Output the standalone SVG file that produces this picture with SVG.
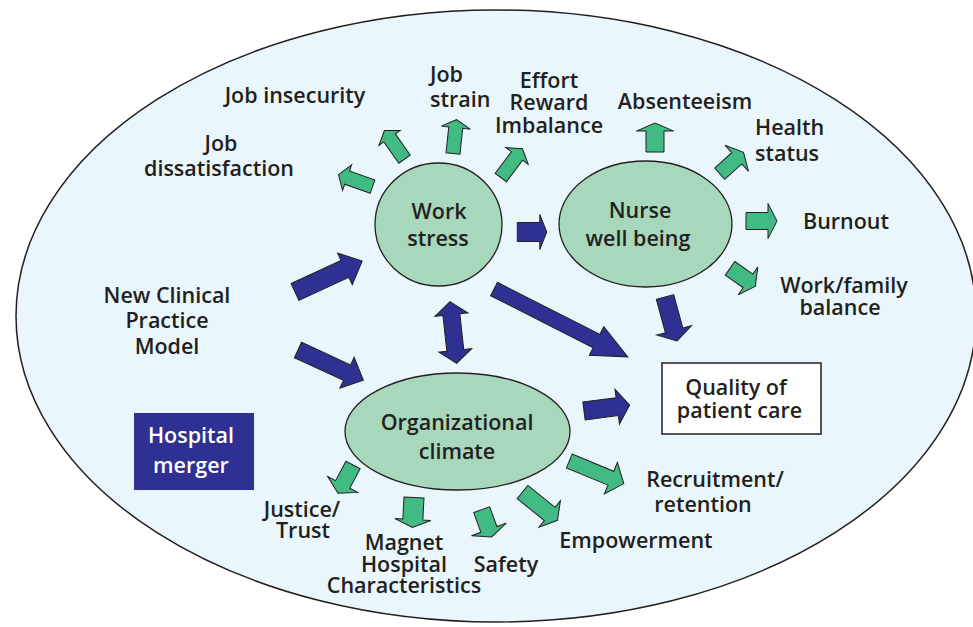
<svg xmlns="http://www.w3.org/2000/svg" width="973" height="627" viewBox="0 0 973 627">
<style>
.bg{fill:#e9f6fc;stroke:#231f20;stroke-width:1.5}
.nd{fill:#a8d8bc;stroke:#231f20;stroke-width:1.3}
.g{fill:#41bb83;stroke:#231f20;stroke-width:1}
.b{fill:#2e3192;stroke:#231f20;stroke-width:1}
text{font-family:"Open Sans","Noto Sans","Liberation Sans",sans-serif;font-weight:600;font-size:21.5px;fill:#231f20;text-anchor:middle}
.w{fill:#ffffff}
.s{text-anchor:start}
</style>
<rect width="973" height="627" fill="#ffffff"/>
<ellipse class="bg" cx="496" cy="316" rx="480" ry="306"/>
<g id="connectors">
<polygon class="g" transform="translate(372.5,186.7) rotate(199.6)" points="0,-7 27,-7 27,-13.5 36,0 27,13.5 27,7 0,7"/>
<polygon class="g" transform="translate(404.5,159.2) rotate(-125)" points="0,-7 26,-7 26,-13 35,0 26,13 26,7 0,7"/>
<polygon class="g" transform="translate(453,153.5) rotate(-84)" points="0,-7 26,-7 26,-14.5 34,0 26,14.5 26,7 0,7"/>
<polygon class="g" transform="translate(500.8,177.5) rotate(-53)" points="0,-7 27,-7 27,-14 36,0 27,14 27,7 0,7"/>
<polygon class="g" transform="translate(655,152) rotate(-90)" points="0,-9 21,-9 21,-18.5 29,0 21,18.5 21,9 0,9"/>
<polygon class="g" transform="translate(719.7,173.7) rotate(-42)" points="0,-7.5 23,-7.5 23,-17.5 32,0 23,17.5 23,7.5 0,7.5"/>
<polygon class="g" transform="translate(746,221) rotate(0)" points="0,-8.5 22,-8.5 22,-17.5 31,0 22,17.5 22,8.5 0,8.5"/>
<polygon class="g" transform="translate(730,268.3) rotate(35)" points="0,-8.3 22,-8.3 22,-17 31,0 22,17 22,8.3 0,8.3"/>
<polygon class="g" transform="translate(353,465) rotate(118)" points="0,-8 22,-8 22,-17 32,0 22,17 22,8 0,8"/>
<polygon class="g" transform="translate(414,497.5) rotate(93)" points="0,-10 22,-10 22,-18 30,0 22,18 22,10 0,10"/>
<polygon class="g" transform="translate(481.7,509.7) rotate(70)" points="0,-8.5 21,-8.5 21,-18.5 29,0 21,18.5 21,8.5 0,8.5"/>
<polygon class="g" transform="translate(522.5,492) rotate(39)" points="0,-8.5 35,-8.5 35,-17 45,0 35,17 35,8.5 0,8.5"/>
<polygon class="g" transform="translate(569.3,461) rotate(22.5)" points="0,-7.5 45,-7.5 45,-17 59,0 45,17 45,7.5 0,7.5"/>
<polygon class="b" transform="translate(517.3,232) rotate(0)" points="0,-9.5 22.5,-9.5 22.5,-17.5 29.5,0 22.5,17.5 22.5,9.5 0,9.5"/>
<polygon class="b" transform="translate(295,292) rotate(-24.8)" points="0,-9.3 55,-9.3 55,-17.5 74,0 55,17.5 55,9.3 0,9.3"/>
<polygon class="b" transform="translate(298,350) rotate(24.8)" points="0,-8.5 54,-8.5 54,-17 72,0 54,17 54,8.5 0,8.5"/>
<polygon class="b" transform="translate(450,301.7) rotate(83.8)" points="0,0 13,-16.5 13,-8.5 49,-8.5 49,-16.5 62,0 49,16.5 49,8.5 13,8.5 13,16.5"/>
<polygon class="b" transform="translate(494,289) rotate(26.9)" points="0,-7.5 115,-7.5 115,-16 150,0 115,16 115,7.5 0,7.5"/>
<polygon class="b" transform="translate(665,297) rotate(74.7)" points="0,-9 34.6,-9 34.6,-18 45.6,0 34.6,18 34.6,9 0,9"/>
<polygon class="b" transform="translate(584,411) rotate(-7.4)" points="0,-9 33.5,-9 33.5,-17.5 46,0 33.5,17.5 33.5,9 0,9"/>
</g>
<g id="work-stress">
<ellipse class="nd" cx="438.5" cy="224.5" rx="63.5" ry="61.5"/>
<text x="439" y="219">Work</text>
<text x="438" y="246">stress</text>
</g>
<g id="nurse-well-being">
<ellipse class="nd" cx="645.5" cy="224" rx="86.5" ry="63"/>
<text x="640" y="218">Nurse</text>
<text x="638" y="246">well being</text>
</g>
<g id="organizational-climate">
<ellipse class="nd" cx="457.5" cy="431.5" rx="112.5" ry="58.5"/>
<text x="457" y="430">Organizational</text>
<text x="457" y="459">climate</text>
</g>
<g id="quality">
<rect x="662" y="363" width="159" height="71" fill="#ffffff" stroke="#231f20" stroke-width="1.5"/>
<text x="736" y="395">Quality of</text>
<text x="739.5" y="418">patient care</text>
</g>
<g id="hospital-merger">
<rect x="134" y="413" width="120" height="77" fill="#2e3192"/>
<text class="w" x="191" y="443">Hospital</text>
<text class="w" x="191" y="473">merger</text>
</g>
<g id="new-clinical-practice-model">
<text x="167" y="303">New Clinical</text>
<text x="167" y="328">Practice</text>
<text x="167" y="354">Model</text>
</g>
<g id="job-insecurity"><text x="295" y="103">Job insecurity</text></g>
<g id="job-strain">
<text class="s" x="430" y="82">Job</text>
<text class="s" x="430" y="107">strain</text>
</g>
<g id="effort-reward-imbalance">
<text x="549" y="88">Effort</text>
<text x="549" y="110">Reward</text>
<text x="549" y="133">Imbalance</text>
</g>
<g id="job-dissatisfaction">
<text x="221" y="151">Job</text>
<text x="219" y="176">dissatisfaction</text>
</g>
<g id="absenteeism"><text x="685" y="109">Absenteeism</text></g>
<g id="health-status">
<text class="s" x="755" y="135">Health</text>
<text class="s" x="755" y="161">status</text>
</g>
<g id="burnout"><text x="846" y="229">Burnout</text></g>
<g id="work-family-balance">
<text x="844" y="293">Work/family</text>
<text x="840" y="315">balance</text>
</g>
<g id="justice-trust">
<text x="302" y="517">Justice/</text>
<text x="303" y="538">Trust</text>
</g>
<g id="magnet">
<text x="404" y="550">Magnet</text>
<text x="404" y="572">Hospital</text>
<text x="404" y="593">Characteristics</text>
</g>
<g id="safety"><text x="506" y="572">Safety</text></g>
<g id="empowerment"><text x="636" y="548">Empowerment</text></g>
<g id="recruitment-retention">
<text x="715" y="487">Recruitment/</text>
<text x="703" y="512">retention</text>
</g>
</svg>
